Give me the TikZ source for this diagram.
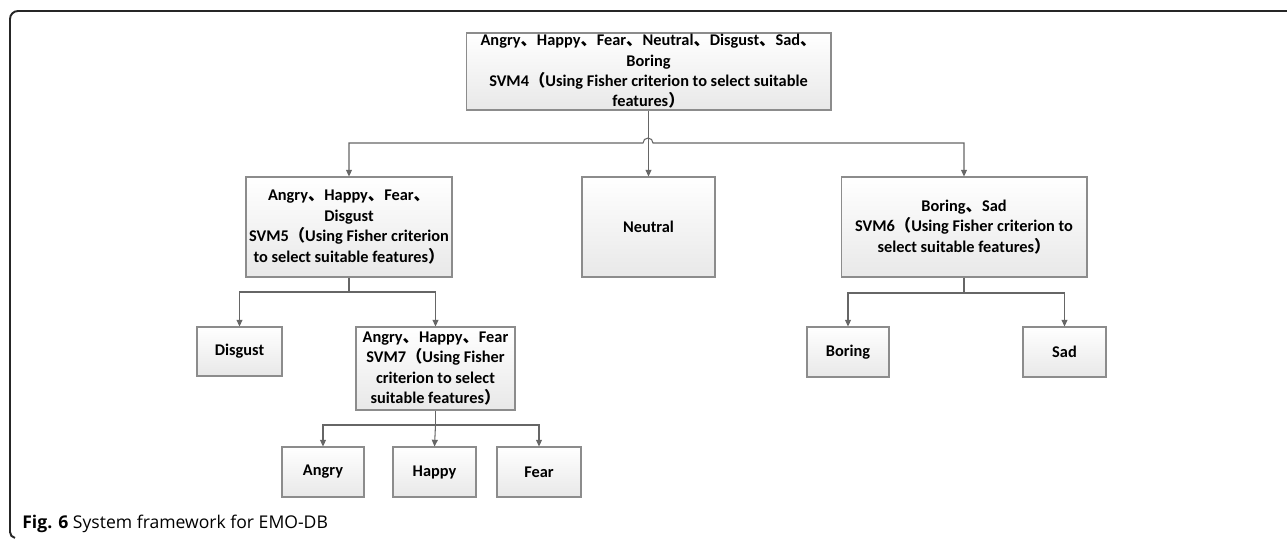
\documentclass[tikz,border=0pt]{standalone}
\usepackage{fontspec}
\setmainfont{Carlito}
\newfontfamily\cjk{Noto Sans CJK SC}
\newfontfamily\capfont{Open Sans}
\usetikzlibrary{arrows.meta}
\newcommand{\dn}{{\cjk 、}}
\newcommand{\lb}{{\cjk （}}
\newcommand{\rb}{{\cjk ）}}

\begin{document}
\begin{tikzpicture}[x=0.02cm,y=-0.02cm,
  box/.style={draw=black!45,line width=0.6pt,top color=white,bottom color=black!9,
    inner sep=0pt,align=center,font=\bfseries\fontsize{9.3}{11.6}\selectfont},
  arr/.style={draw=black!60,line width=0.6pt,-{Triangle[width=3.4pt,length=3.8pt]}},
  ln/.style={draw=black!60,line width=0.6pt}]
\useasboundingbox (0,0) rectangle (1287,542);
\draw[line width=1.1pt,black!85] (1287,11) -- (18,11) arc[start angle=90,end angle=180,radius=0.16cm]
  -- (10,532) arc[start angle=180,end angle=260,radius=0.12cm];

% first level
\node[box,minimum width=7.3cm,minimum height=1.54cm] (svm4) at (648.5,71.5)
  {Angry\dn Happy\dn Fear\dn Neutral\dn Disgust\dn Sad\dn\\Boring\\SVM4\lb Using Fisher criterion to select suitable\\features\rb};

\node[box,minimum width=4.12cm,minimum height=2cm] (svm5) at (349,227)
  {Angry\dn Happy\dn Fear\dn\\Disgust\\SVM5\lb Using Fisher criterion\\to select suitable features\rb};
\node[box,minimum width=2.66cm,minimum height=2cm] (neutral) at (648.5,227) {Neutral};
\node[box,minimum width=4.92cm,minimum height=2cm] (svm6) at (964,227)
  {Boring\dn Sad\\SVM6\lb Using Fisher criterion to\\select suitable features\rb};

% second level
\node[box,minimum width=1.7cm,minimum height=0.98cm] (disgust) at (239.5,351.5) {Disgust};
\node[box,minimum width=3.18cm,minimum height=1.66cm] (svm7) at (435.5,368.5)
  {Angry\dn Happy\dn Fear\\SVM7\lb Using Fisher\\criterion to select\\suitable features\rb};
\node[box,minimum width=1.64cm,minimum height=1cm] (boring) at (848,352) {Boring};
\node[box,minimum width=1.66cm,minimum height=1cm] (sad) at (1064.5,352) {Sad};

% third level
\node[box,minimum width=1.64cm,minimum height=1cm] (angry) at (323,472) {Angry};
\node[box,minimum width=1.66cm,minimum height=1cm] (happy) at (434.5,472) {Happy};
\node[box,minimum width=1.68cm,minimum height=1cm] (fear) at (539,472) {Fear};

% connectors
\coordinate (hopL) at (643,143);
\coordinate (hopR) at (653,143);
\draw[arr] (svm4.south) -- (neutral.north);
\draw[arr,{Triangle[width=3.4pt,length=3.8pt]}-{Triangle[width=3.4pt,length=3.8pt]}]
  (svm5.north) |- (hopL) arc[start angle=180,end angle=0,radius=0.1cm] -- (hopR) -| (svm6.north);

\coordinate (s5) at (349,292);
\draw[ln] (svm5.south) -- (s5);
\draw[arr] (s5) -| (disgust.north);
\draw[arr] (s5) -| (svm7.north);

\coordinate (s6) at (964,293);
\draw[ln] (svm6.south) -- (s6);
\draw[arr] (s6) -| (boring.north);
\draw[arr] (s6) -| (sad.north);

\coordinate (s7) at (435.5,425);
\draw[ln] (svm7.south) -- (s7);
\draw[arr] (s7) -| (angry.north);
\draw[arr] (s7) -- (happy.north);
\draw[arr] (s7) -| (fear.north);

\node[anchor=base west,inner sep=0pt,font=\capfont\fontsize{10}{12}\selectfont] (cap) at (22,528)
  {\textbf{Fig. 6} System framework for EMO-DB};
\end{tikzpicture}
\end{document}
